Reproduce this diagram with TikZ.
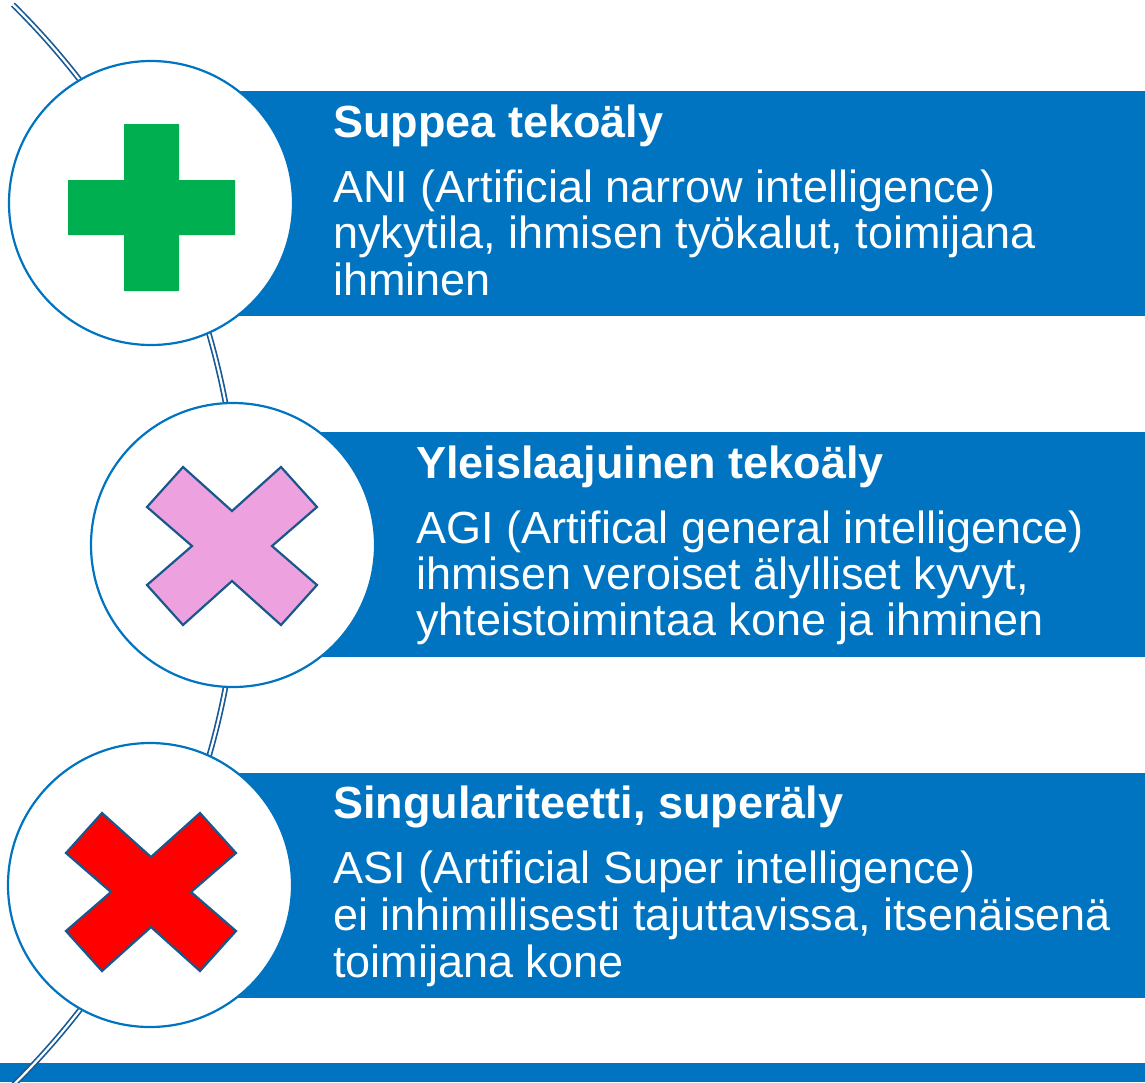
\documentclass[tikz,border=0pt]{standalone}
\usepackage{fontspec}
\setmainfont{Liberation Sans}
\usetikzlibrary{calc}
\definecolor{barblue}{RGB}{0,116,192}
\definecolor{arcblue}{RGB}{24,90,150}
\definecolor{xline}{RGB}{24,88,140}
\definecolor{plusgreen}{RGB}{0,176,80}
\definecolor{xpink}{RGB}{237,161,222}
\definecolor{xred}{RGB}{255,0,0}
\begin{document}
\begin{tikzpicture}[x=1pt,y=1pt,
  bar/.style={fill=barblue, draw=none},
  disc/.style={circle, draw=barblue, line width=2.2pt, fill=white, minimum size=284pt, inner sep=0pt},
  ttl/.style={anchor=base west, inner sep=0pt, text=white, font=\fontsize{45}{45}\selectfont\bfseries},
  txt/.style={anchor=base west, inner sep=0pt, text=white, font=\fontsize{45}{45}\selectfont},
  arcline/.style={draw=arcblue, line width=1.7pt, double=white, double distance=2.2pt},
  xmark/.style={draw=xline, line width=2.2pt, line join=miter}
]
\useasboundingbox (0,0) rectangle (1145,-1082);
\clip (0,0) rectangle (1145,-1082);

% bars
\fill[bar] (151,-91) rectangle (1145,-316);
\fill[bar] (233,-432) rectangle (1145,-657);
\fill[bar] (150,-773) rectangle (1145,-998);
\fill[bar] (0,-1063) rectangle (1145,-1082);

% arc
\coordinate (arcc) at (-520,-545);
\draw[arcline] (arcc) ++(45.4:759) arc[start angle=45.4, end angle=-47, radius=759];

% circles
\node[disc] (c1) at (151,-203) {};
\node[disc] (c2) at (233,-545) {};
\node[disc] (c3) at (150,-885) {};

% plus
\begin{scope}[shift={($(c1.center)+(0.5,-4.5)$)}]
\fill[plusgreen] (-27.5,83.5) -- (27.5,83.5) -- (27.5,27.5) -- (83.5,27.5) -- (83.5,-27.5) -- (27.5,-27.5)
  -- (27.5,-83.5) -- (-27.5,-83.5) -- (-27.5,-27.5) -- (-83.5,-27.5) -- (-83.5,27.5) -- (-27.5,27.5) -- cycle;
\end{scope}

% pink X
\begin{scope}[shift={($(c2.center)+(-1,-1)$)}]
\filldraw[xmark, fill=xpink] (-49,79) -- (0,35) -- (49,79) -- (85,39) -- (40,0) -- (85,-39) -- (49,-79)
  -- (0,-35) -- (-49,-79) -- (-85,-39) -- (-40,0) -- (-85,39) -- cycle;
\end{scope}

% red X
\begin{scope}[shift={($(c3.center)+(1,-7)$)}]
\filldraw[xmark, fill=xred] (-49,79) -- (0,35) -- (49,79) -- (85,39) -- (40,0) -- (85,-39) -- (49,-79)
  -- (0,-35) -- (-49,-79) -- (-85,-39) -- (-40,0) -- (-85,39) -- cycle;
\end{scope}

% texts bar 1
\node[ttl] (t1) at (333,-137) {Suppea tekoäly};
\node[txt] (t1a) at (333,-202) {ANI (Artificial narrow intelligence)};
\node[txt] (t1b) at (333,-248.5) {nykytila, ihmisen työkalut, toimijana};
\node[txt] (t1c) at (333,-295) {ihminen};

% texts bar 2
\node[ttl] (t2) at (416,-478) {Yleislaajuinen tekoäly};
\node[txt] (t2a) at (416,-543) {AGI (Artifical general intelligence)};
\node[txt] (t2b) at (416,-589) {ihmisen veroiset älylliset kyvyt,};
\node[txt] (t2c) at (416,-635) {yhteistoimintaa kone ja ihminen};

% texts bar 3
\node[ttl] (t3) at (333,-818) {Singulariteetti, superäly};
\node[txt] (t3a) at (333,-883) {ASI (Artificial Super intelligence)};
\node[txt] (t3b) at (333,-930) {ei inhimillisesti tajuttavissa, itsenäisenä};
\node[txt] (t3c) at (333,-977) {toimijana kone};
\end{tikzpicture}
\end{document}
